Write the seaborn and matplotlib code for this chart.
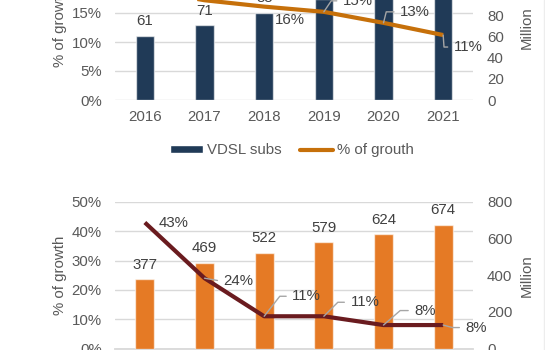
import matplotlib
matplotlib.use('Agg')
import matplotlib.pyplot as plt
import seaborn as sns
import numpy as np
from matplotlib.patches import Patch
from matplotlib.lines import Line2D
from matplotlib.ticker import MultipleLocator, FuncFormatter

# ---------------- data ----------------
years = ['2016', '2017', '2018', '2019', '2020', '2021']

vdsl_subs = [61, 71, 83, 96, 108, 120]              # Million
vdsl_growth = [19.0, 17.2, 16.1, 15.2, 13.3, 11.2]  # %
vdsl_growth_labels = ['19%', '17%', '16%', '15%', '13%', '11%']

bb_subs = [377, 469, 522, 579, 624, 674]            # Million
bb_growth = [43, 24, 11, 11, 8, 8]                  # %
bb_growth_labels = ['43%', '24%', '11%', '11%', '8%', '8%']

left_label = '% of growth'
right_label = 'Million'
legend_labels = ['VDSL subs', '% of grouth']

# ---------------- style ----------------
sns.set_theme(style='white')
plt.rcParams['font.family'] = ['Liberation Sans', 'DejaVu Sans']
FS = 10.8
GRAY = '#595959'
DARK = '#404040'
GRID = '#D9D9D9'
LEAD = '#A6A6A6'
NAVY = '#203A57'
ORANGE_LINE = '#C6700A'
ORANGE_BAR = '#E57A25'
MAROON = '#6A1B1F'

W, H = 545, 350
fig = plt.figure(figsize=(W / 100, H / 100), dpi=100)


def rect(l, t, r, b):
    return [l / W, 1 - b / H, (r - l) / W, (b - t) / H]


def panel(box, subs, growth, glabels, gmax, gstep, smax, sstep,
          bar_color, line_color, specs, bar_width, show_spine):
    ax = fig.add_axes(rect(*box))
    ax.set_ylim(0, gmax)
    ax.yaxis.set_major_locator(MultipleLocator(gstep))
    ax.yaxis.set_major_formatter(FuncFormatter(lambda v, p: f'{v:.0f}%'))
    ax.grid(axis='y', color=GRID, lw=1)
    ax.grid(axis='x', visible=False)
    ax.set_axisbelow(True)

    axb = ax.twinx()
    sns.barplot(x=years, y=subs, ax=axb, color=bar_color, saturation=1,
                width=bar_width, edgecolor=(1, 1, 1, 0.6), linewidth=1)
    axb.set_ylim(0, smax)
    axb.yaxis.set_major_locator(MultipleLocator(sstep))
    axb.bar_label(axb.containers[0], labels=[str(v) for v in subs],
                  padding=5.5, fontsize=FS, color=DARK)

    axl = ax.twinx()
    sns.lineplot(x=np.arange(len(years)), y=growth, ax=axl, color=line_color,
                 lw=3, solid_capstyle='butt')
    axl.set_ylim(0, gmax)
    axl.set_yticks([])

    for a in (ax, axb, axl):
        a.set_xlim(-0.5, len(years) - 0.5)
        for s in a.spines.values():
            s.set_visible(False)
        a.set_xlabel('')
    ax.set_xticks(range(len(years)), years)
    if show_spine:
        ax.spines['bottom'].set_visible(True)
        ax.spines['bottom'].set_color(GRID)
        ax.spines['bottom'].set_linewidth(1.3)

    ax.tick_params(axis='y', length=0, pad=9.6, labelsize=FS, labelcolor=GRAY)
    ax.tick_params(axis='x', length=0, pad=7, labelsize=FS, labelcolor=GRAY)
    axb.tick_params(axis='y', length=0, pad=10, labelsize=FS, labelcolor=GRAY)

    ax.set_ylabel(left_label, fontsize=FS, color=GRAY)
    ax.yaxis.set_label_coords(-0.135, 0.5)
    axb.set_ylabel(right_label, fontsize=FS, color=GRAY)
    axb.yaxis.set_label_coords(1.13, 0.5)

    for i, (v, lab, spec) in enumerate(zip(growth, glabels, specs)):
        if spec is None:
            continue
        dx, dy, ang = spec
        ap = None
        if ang is not None:
            ap = dict(arrowstyle='-', color=LEAD, lw=1, shrinkA=2, shrinkB=0,
                      connectionstyle=f'angle,angleA=0,angleB={ang},rad=0')
        axl.annotate(lab, xy=(i, v), xytext=(dx, dy), textcoords='offset pixels',
                     ha='center', va='center', fontsize=FS, color=DARK,
                     arrowprops=ap, annotation_clip=False)
    return ax


# top panel (partly cut off at the top)
top_specs = [None, (24, 14, None), (26, -13, None), (34, 11, 56), (31.5, 11, 76),
             (25, -12, -86)]
panel((115, -45, 473, 100), vdsl_subs, vdsl_growth, vdsl_growth_labels,
      25, 5, 138, 20, NAVY, ORANGE_LINE, top_specs, 0.31, False)

# bottom panel
bot_specs = [(29, 0, None), (34, -2.5, -10), (42.5, 20, 52), (41, 14, 45),
             (41.5, 14.5, 41), (33, -2.5, -15)]
panel((115, 202, 473, 348.5), bb_subs, bb_growth, bb_growth_labels,
      50, 10, 800, 200, ORANGE_BAR, MAROON, bot_specs, 0.32, True)

# legend of the top panel
handles = [Patch(facecolor=NAVY), Line2D([0], [0], color=ORANGE_LINE, lw=3)]
fig.legend(handles, legend_labels, loc='center',
           bbox_to_anchor=(292 / W, 1 - 150.5 / H), ncol=2, frameon=False,
           fontsize=FS, handlelength=2.2, handleheight=0.5, handletextpad=0.3,
           columnspacing=1.2, labelcolor=GRAY, borderpad=0, borderaxespad=0)

fig.add_artist(Line2D([543.5 / W] * 2, [0, 1], transform=fig.transFigure,
                      color='#EDEDED', lw=1))

fig.savefig('out.png', dpi=100)
